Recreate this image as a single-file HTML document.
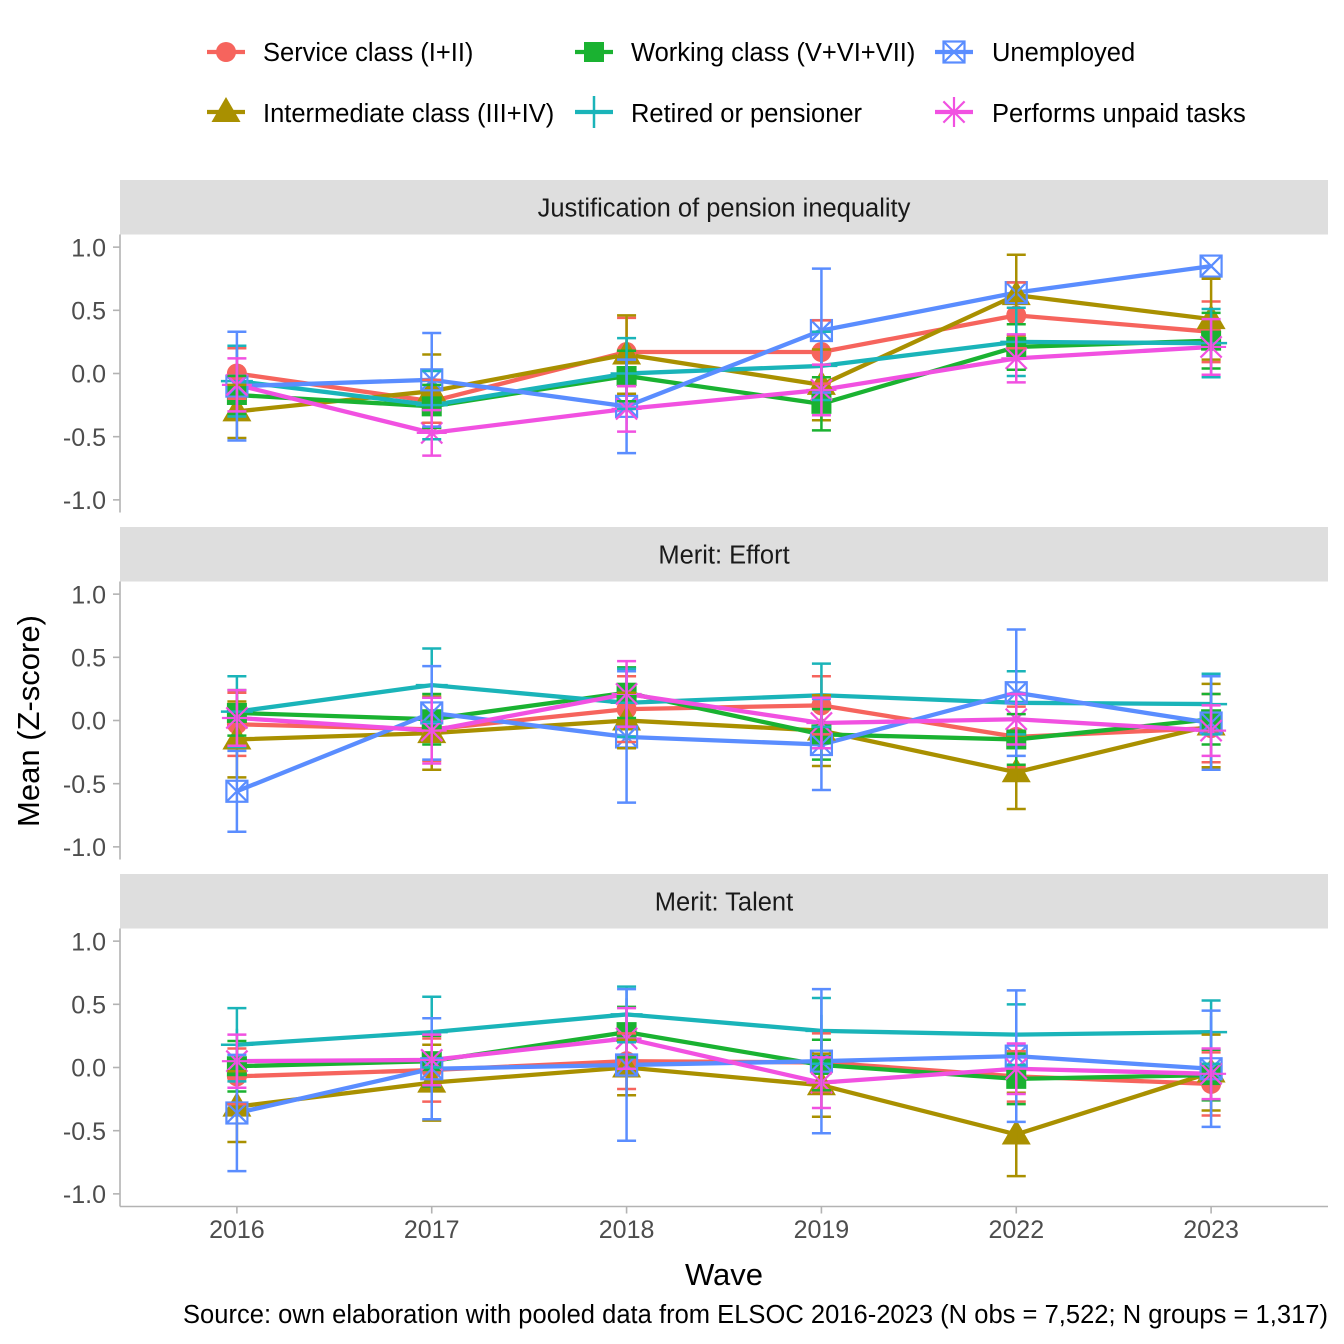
<!DOCTYPE html>
<html>
<head>
<meta charset="utf-8">
<style>
  html,body{margin:0;padding:0;background:#fff;}
  svg{display:block;font-family:"Liberation Sans",Arial,sans-serif;}
  .tick{font-size:25px;fill:#4D4D4D;}
  .leg{font-size:25.5px;fill:#000;}
  .strip{font-size:25.5px;fill:#1A1A1A;}
</style>
</head>
<body>
<svg id="chart" width="1344" height="1344" viewBox="0 0 1344 1344">
  <defs>
    <clipPath id="cp0"><rect x="120" y="234.5" width="1208" height="278"/></clipPath>
    <clipPath id="cp1"><rect x="120" y="581.5" width="1208" height="278"/></clipPath>
    <clipPath id="cp2"><rect x="120" y="928.5" width="1208" height="278"/></clipPath>
  </defs>
  <rect x="0" y="0" width="1344" height="1344" fill="#fff"/>

  <!-- strips -->
  <rect x="120" y="180" width="1208" height="54.5" fill="#DEDEDE"/>
  <rect x="120" y="527" width="1208" height="54.5" fill="#DEDEDE"/>
  <rect x="120" y="874" width="1208" height="54.5" fill="#DEDEDE"/>
  <text class="strip" x="724" y="216.5" text-anchor="middle">Justification of pension inequality</text>
  <text class="strip" x="724" y="563.5" text-anchor="middle">Merit: Effort</text>
  <text class="strip" x="724" y="910.5" text-anchor="middle">Merit: Talent</text>

  <!-- y tick labels panel 1 -->
  <text class="tick" x="106" y="256.3" text-anchor="end">1.0</text>
  <text class="tick" x="106" y="319.5" text-anchor="end">0.5</text>
  <text class="tick" x="106" y="382.7" text-anchor="end">0.0</text>
  <text class="tick" x="106" y="445.9" text-anchor="end">-0.5</text>
  <text class="tick" x="106" y="509.1" text-anchor="end">-1.0</text>
  <!-- panel 2 -->
  <text class="tick" x="106" y="603.3" text-anchor="end">1.0</text>
  <text class="tick" x="106" y="666.5" text-anchor="end">0.5</text>
  <text class="tick" x="106" y="729.7" text-anchor="end">0.0</text>
  <text class="tick" x="106" y="792.9" text-anchor="end">-0.5</text>
  <text class="tick" x="106" y="856.1" text-anchor="end">-1.0</text>
  <!-- panel 3 -->
  <text class="tick" x="106" y="950.3" text-anchor="end">1.0</text>
  <text class="tick" x="106" y="1013.5" text-anchor="end">0.5</text>
  <text class="tick" x="106" y="1076.7" text-anchor="end">0.0</text>
  <text class="tick" x="106" y="1139.9" text-anchor="end">-0.5</text>
  <text class="tick" x="106" y="1203.1" text-anchor="end">-1.0</text>

  <!-- x tick labels -->
  <text class="tick" x="236.9" y="1238" text-anchor="middle">2016</text>
  <text class="tick" x="431.7" y="1238" text-anchor="middle">2017</text>
  <text class="tick" x="626.6" y="1238" text-anchor="middle">2018</text>
  <text class="tick" x="821.4" y="1238" text-anchor="middle">2019</text>
  <text class="tick" x="1016.3" y="1238" text-anchor="middle">2022</text>
  <text class="tick" x="1211.1" y="1238" text-anchor="middle">2023</text>

  <!-- axis titles -->
  <text x="724" y="1285" text-anchor="middle" font-size="31" fill="#000">Wave</text>
  <text x="0" y="0" transform="translate(39,721) rotate(-90)" text-anchor="middle" font-size="31" fill="#000">Mean (Z-score)</text>
  <text x="183" y="1323" font-size="25.5" fill="#000" textLength="1145" lengthAdjust="spacing">Source: own elaboration with pooled data from ELSOC 2016-2023 (N obs = 7,522; N groups = 1,317)</text>

  <!-- legend text -->
  <text class="leg" x="263" y="61">Service class (I+II)</text>
  <text class="leg" x="631" y="61">Working class (V+VI+VII)</text>
  <text class="leg" x="992" y="61">Unemployed</text>
  <text class="leg" x="263" y="122">Intermediate class (III+IV)</text>
  <text class="leg" x="631" y="122">Retired or pensioner</text>
  <text class="leg" x="992" y="122">Performs unpaid tasks</text>

  <g id="axes"></g>
  <g id="legendkeys"></g>
  <g id="p0" clip-path="url(#cp0)"></g>
  <g id="p1" clip-path="url(#cp1)"></g>
  <g id="p2" clip-path="url(#cp2)"></g>
</svg>
<script>
(function(){
  var cols = ['#F6645D','#A99000','#1AB231','#1AB4B9','#5A8DFF','#F151E1'];
  var X = [];
  for (var i=0;i<6;i++) X.push(120 + (i+0.6)*1208/6.2);
  var tops = [234.5, 581.5, 928.5];
  var H = 278, unit = 278/2.2;

  var D = [
    { m:[[0.00,-0.22,0.17,0.17,0.46,0.33],
         [-0.30,-0.14,0.15,-0.09,0.62,0.43],
         [-0.17,-0.26,-0.02,-0.24,0.21,0.26],
         [-0.06,-0.25,0.00,0.06,0.25,0.24],
         [-0.10,-0.05,-0.26,0.34,0.64,0.85],
         [-0.09,-0.47,-0.28,-0.13,0.12,0.21]],
      h:[[0.20,0.17,0.27,0.25,0.26,0.24],
         [0.21,0.29,0.31,0.28,0.32,0.32],
         [0.15,0.17,0.20,0.21,0.18,0.22],
         [0.28,0.27,0.28,0.27,0.27,0.27],
         [0.43,0.37,0.37,0.49,null,null],
         [0.21,0.18,0.18,0.20,0.19,0.22]] },
    { m:[[-0.03,-0.07,0.09,0.12,-0.13,-0.06],
         [-0.15,-0.10,0.00,-0.08,-0.41,-0.04],
         [0.06,0.01,0.22,-0.11,-0.15,0.01],
         [0.07,0.28,0.14,0.20,0.14,0.13],
         [-0.56,0.06,-0.13,-0.19,0.22,-0.02],
         [0.02,-0.08,0.21,-0.02,0.01,-0.08]],
      h:[[0.25,0.25,0.26,0.23,0.24,0.27],
         [0.30,0.29,0.22,0.28,0.29,0.33],
         [0.18,0.20,0.20,0.20,0.20,0.20],
         [0.28,0.29,0.27,0.25,0.25,0.24],
         [0.32,0.37,0.52,0.36,0.50,0.37],
         [0.22,0.26,0.26,0.20,0.20,0.20]] },
    { m:[[-0.07,-0.02,0.05,0.04,-0.07,-0.13],
         [-0.31,-0.12,0.00,-0.14,-0.53,-0.04],
         [0.01,0.05,0.28,0.02,-0.09,-0.06],
         [0.18,0.28,0.42,0.29,0.26,0.28],
         [-0.36,-0.01,0.02,0.05,0.09,-0.01],
         [0.05,0.06,0.23,-0.12,-0.01,-0.05]],
      h:[[0.22,0.25,0.22,0.23,0.20,0.25],
         [0.28,0.30,0.22,0.25,0.33,0.30],
         [0.20,0.20,0.20,0.20,0.20,0.20],
         [0.29,0.28,0.22,0.26,0.24,0.25],
         [0.46,0.40,0.60,0.57,0.52,0.46],
         [0.21,0.20,0.24,0.20,0.20,0.20]] }
  ];

  function f(v){return v.toFixed(2);}
  function shape(k,x,y,c){
    switch(k){
      case 0: return '<circle cx="'+f(x)+'" cy="'+f(y)+'" r="10" fill="'+c+'"/>';
      case 1: return '<polygon points="'+f(x)+','+f(y-15)+' '+f(x-14.5)+','+f(y+10)+' '+f(x+14.5)+','+f(y+10)+'" fill="'+c+'"/>';
      case 2: return '<rect x="'+f(x-10)+'" y="'+f(y-10)+'" width="20" height="20" fill="'+c+'"/>';
      case 3: return '<path d="M'+f(x-16)+' '+f(y)+'H'+f(x+16)+'M'+f(x)+' '+f(y-16)+'V'+f(y+16)+'" stroke="'+c+'" stroke-width="2.5" fill="none"/>';
      case 4: return '<rect x="'+f(x-10.5)+'" y="'+f(y-10.5)+'" width="21" height="21" fill="none" stroke="'+c+'" stroke-width="2.2"/>'+
                     '<path d="M'+f(x-10.5)+' '+f(y-10.5)+'L'+f(x+10.5)+' '+f(y+10.5)+'M'+f(x+10.5)+' '+f(y-10.5)+'L'+f(x-10.5)+' '+f(y+10.5)+'" stroke="'+c+'" stroke-width="2.2" fill="none"/>';
      case 5: return '<path d="M'+f(x-15)+' '+f(y)+'H'+f(x+15)+'M'+f(x)+' '+f(y-15)+'V'+f(y+15)+
                     'M'+f(x-10.6)+' '+f(y-10.6)+'L'+f(x+10.6)+' '+f(y+10.6)+'M'+f(x+10.6)+' '+f(y-10.6)+'L'+f(x-10.6)+' '+f(y+10.6)+'" stroke="'+c+'" stroke-width="2.2" fill="none"/>';
    }
    return '';
  }

  // axes
  var ax = '';
  var ac = '#B3B3B3';
  for (var p=0;p<3;p++){
    var t = tops[p], z = t + H/2;
    ax += '<line x1="120" y1="'+t+'" x2="120" y2="'+(t+H)+'" stroke="'+ac+'" stroke-width="1.6"/>';
    for (var v=-2; v<=2; v++){
      var yy = z - v*0.5*unit;
      ax += '<line x1="113" y1="'+f(yy)+'" x2="120" y2="'+f(yy)+'" stroke="'+ac+'" stroke-width="1.6"/>';
    }
  }
  var by = tops[2]+H;
  ax += '<line x1="120" y1="'+f(by)+'" x2="1328" y2="'+f(by)+'" stroke="'+ac+'" stroke-width="1.6"/>';
  for (var i=0;i<6;i++){
    ax += '<line x1="'+f(X[i])+'" y1="'+f(by)+'" x2="'+f(X[i])+'" y2="'+f(by+7)+'" stroke="'+ac+'" stroke-width="1.6"/>';
  }
  document.getElementById('axes').innerHTML = ax;

  // panels
  for (var p=0;p<3;p++){
    var z = tops[p] + H/2;
    var s = '';
    var d = D[p];
    // lines
    for (var k=0;k<6;k++){
      var pts = [];
      for (var i=0;i<6;i++) pts.push(f(X[i])+','+f(z - d.m[k][i]*unit));
      s += '<polyline points="'+pts.join(' ')+'" fill="none" stroke="'+cols[k]+'" stroke-width="4.3" stroke-linejoin="round"/>';
    }
    // points
    for (var k=0;k<6;k++){
      for (var i=0;i<6;i++) s += shape(k, X[i], z - d.m[k][i]*unit, cols[k]);
    }
    // error bars
    for (var k=0;k<6;k++){
      for (var i=0;i<6;i++){
        if (d.h[k][i] === null) continue;
        var y1 = z - (d.m[k][i]+d.h[k][i])*unit;
        var y2 = z - (d.m[k][i]-d.h[k][i])*unit;
        var x = X[i];
        s += '<path d="M'+f(x)+' '+f(y1)+'V'+f(y2)+'M'+f(x-9.5)+' '+f(y1)+'H'+f(x+9.5)+'M'+f(x-9.5)+' '+f(y2)+'H'+f(x+9.5)+'" stroke="'+cols[k]+'" stroke-width="2.5" fill="none"/>';
      }
    }
    document.getElementById('p'+p).innerHTML = s;
  }

  // legend keys
  var lk = '';
  var keys = [[226,52,0],[226,112,1],[594,52,2],[594,112,3],[954,52,4],[954,112,5]];
  for (var j=0;j<keys.length;j++){
    var kx=keys[j][0], ky=keys[j][1], k=keys[j][2];
    lk += '<line x1="'+(kx-19)+'" y1="'+ky+'" x2="'+(kx+19)+'" y2="'+ky+'" stroke="'+cols[k]+'" stroke-width="4.3"/>';
    lk += shape(k, kx, ky, cols[k]);
  }
  document.getElementById('legendkeys').innerHTML = lk;
})();
</script>
</body>
</html>
